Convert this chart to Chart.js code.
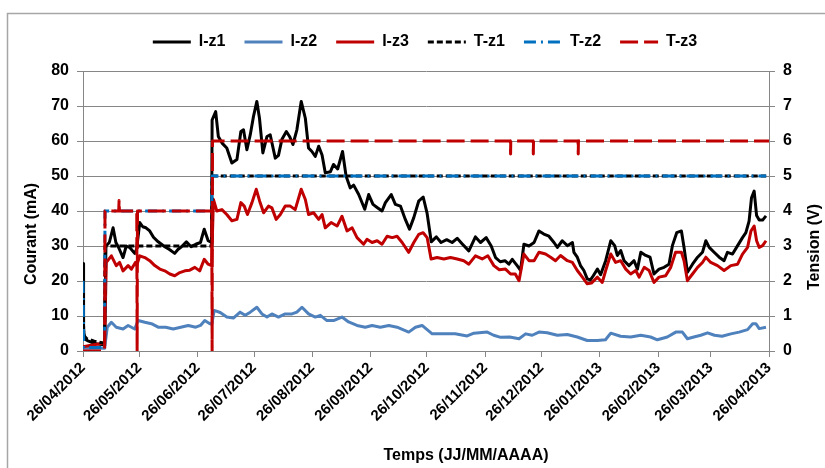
<!DOCTYPE html>
<html>
<head>
<meta charset="utf-8">
<script src="https://cdn.jsdelivr.net/npm/chart.js@4.4.1/dist/chart.umd.min.js"></script>
<style>
  html, body { margin: 0; padding: 0; background: #fff; }
  canvas { display: block; }
</style>
</head>
<body>
<canvas id="chart" width="825" height="468"></canvas>
<script>
// jours comptés depuis le 26/04/2012
const tickDays = [0, 30, 61, 91, 122, 153, 183, 214, 244, 275, 306, 334, 365];
const tickLabels = ['26/04/2012', '26/05/2012', '26/06/2012', '26/07/2012', '26/08/2012', '26/09/2012',
    '26/10/2012', '26/11/2012', '26/12/2012', '26/01/2013', '26/02/2013', '26/03/2013', '26/04/2013'];

// courant zone 1 (mA)
const iz1Days = [0, 0.3, 1, 3, 5, 7, 9, 11.5, 12.2, 14, 16, 17.5, 19, 21.3, 23, 25, 27.5, 28.5, 30.2, 31.8,
    33.5, 35.5, 37.5, 40, 43.5, 46, 48.8, 50.5, 52.4, 55, 57.5, 60, 62.5, 64.5, 66.6, 68.4, 68.7, 70.6, 72, 74,
    76.5, 79.2, 81.9, 84, 85.4, 87.2, 89, 90.7, 92.5, 93.9, 95.7, 97.9, 99.6, 102.3, 104, 105.8, 108.2, 109.9,
    111.7, 113.8, 116.1, 118.3, 120, 121.8, 123.6, 125.4, 127.2, 128.9, 131.6, 133.3, 135.5, 138.1, 140, 142.2,
    144, 146.7, 149.9, 152, 154.3, 156.5, 159.1, 160.9, 164, 166.2, 168.9, 171.5, 173.7, 176, 178.6, 181, 183.1,
    185.3, 188, 190.5, 193.5, 196.4, 199.1, 201.8, 205.3, 208.8, 211.5, 214.5, 217.2, 219.5, 222, 224.5, 226.6,
    228.4, 231.1, 232.8, 234.6, 237.3, 240, 242.6, 245.2, 247.9, 250.6, 252.4, 255, 257.7, 260.4, 261.2, 263,
    264.8, 266.5, 268.3, 270, 271.5, 273.7, 275.4, 278.1, 280.8, 282.9, 284.3, 286.1, 287.9, 290.5, 293.2, 295,
    296.8, 299.4, 301.7, 303.8, 306.5, 309.2, 311.8, 313.6, 315.9, 318.4, 319.8, 321.6, 324.3, 327, 329.6, 331.4,
    333.2, 335.8, 338.5, 341.1, 342.9, 345.6, 348.3, 350.9, 352.7, 354.4, 355.7, 357.1, 358.4, 359.8, 361.6, 363.4];
const iz1Vals = [25, 6, 3.4, 2.8, 2.4, 2.1, 1.9, 1.7, 30, 31, 35.2, 31, 29.5, 26.7, 30, 29.5, 27.9, 29, 36.7, 35.5,
    35.2, 34.3, 32.5, 31.2, 29.8, 29, 27.9, 29, 29.8, 31.2, 29.8, 30.5, 31, 34.8, 31.5, 31, 66, 68.4, 61.3, 59.4,
    58, 53.7, 54.7, 62.7, 63.2, 57.5, 61.8, 67, 71.3, 66.5, 56.6, 61.3, 61.8, 55.1, 55.9, 60.4, 62.7, 61.3,
    59, 63.2, 71.3, 66.5, 58, 57, 55.6, 58.5, 56, 50.9, 51.2, 53.3, 52, 57, 49.9, 46.6,
    47.4, 44.7, 40.5, 44.7, 41.9, 41, 40, 42.4, 44.7, 41.9, 41.4, 37.6, 34.8, 38.1, 42.8, 44, 39.3,
    31.2, 32.6, 31, 31.8, 31, 32.2, 30.6, 28.6, 32.6, 31, 32.4, 30, 26.7, 25.5, 25.8, 24.8,
    26.2, 24.3, 23, 30.5, 30, 31, 34.3, 33.4, 32.8, 31, 29.6, 31.5, 30.1, 31, 28.2, 26.8,
    24.3, 23, 20.6, 20.3, 21.5, 23.4, 21.8, 25.8, 31.5, 30.1, 27.3, 28.7, 25.8, 24.4, 25.8, 23.4,
    28.2, 27.3, 26.8, 22, 23.4, 23.9, 24.8, 30.1, 33.8, 34.3, 29.6, 22.5, 24.8, 26.8, 28.2, 31.5,
    29.6, 28.2, 26.8, 25.8, 28.2, 27.7, 30.1, 32.4, 33.8, 37.1, 43.8, 45.7, 38.7, 37.4, 37.4, 38.6];

// courant zone 2 (mA)
const iz2Days = [0, 11.5, 12.9, 15.1, 17.7, 21.3, 24, 27.5, 29.3, 32.9, 36.4, 40, 44, 48, 52, 56, 60, 62.5, 64.8,
    67.5, 68.5, 69.8, 73, 76.5, 80, 83.6, 86.3, 89, 92.5, 95.2, 97.9, 100.5, 104, 107.6, 111.2, 113.8, 116.5, 120,
    123.6, 126.3, 129.8, 133.3, 137.8, 141.3, 145.8, 150.2, 153.8, 158.2, 162.7, 167.1, 173.3, 176.9, 180.4,
    185.8, 192, 198, 204.4, 208, 215.1, 218.5, 222.2, 227, 232, 235.5, 239, 242.6, 247, 252.4, 257.7, 263, 268.3,
    273.7, 278, 280.8, 286, 291.4, 296.8, 302, 305.6, 310.9, 315.4, 318.9, 321.6, 325, 328.7, 332.3, 336, 340,
    344.7, 349.1, 353.6, 356.3, 358, 359.8, 363.4];
const iz2Vals = [0.8, 0.8, 6.8, 8.2, 6.8, 6.3, 7.3, 6.3, 8.7, 8.2, 7.8, 6.8, 6.8, 6.3, 6.8, 7.3, 6.8, 7.3, 8.7,
    7.8, 7.6, 11.6, 11, 9.7, 9.4, 11.1, 10.2, 11.1, 12.5, 10.6, 9.7, 10.6, 9.7, 10.6, 10.6, 11.1, 12.5, 10.6,
    9.7, 10.2, 8.7, 8.7, 9.7, 8.3, 7.3, 6.8, 7.3, 6.8, 7.3, 6.8, 5.4, 6.8, 7.3,
    4.9, 4.9, 4.9, 4.3, 5.1, 5.4, 4.5, 3.9, 4.0, 3.5, 4.9, 4.5, 5.4, 5.2, 4.5, 4.7, 4.0, 3.0,
    3.0, 3.2, 5.1, 4.2, 4.0, 4.5, 4.0, 3.2, 4.0, 5.4, 5.4, 3.5, 4.0, 4.5, 5.2, 4.5, 4.2,
    4.9, 5.4, 6.1, 7.8, 7.8, 6.4, 6.8];

// courant zone 3 (mA)
const iz3Days = [0, 5, 11.5, 12.4, 15.1, 17.7, 19.5, 21.3, 24, 25.8, 27.9, 28.6, 30.2, 32.9, 35.5, 38.2, 40.9, 43.5,
    46.2, 48.8, 51.5, 54.2, 56.8, 59.5, 62.1, 64.5, 66.6, 68.4, 69.4, 71.2, 73.9, 76.5, 79.2, 81.9, 84, 85.8, 87.5,
    89.9, 92.2, 94, 96.1, 98.7, 100.5, 102.8, 105, 107.6, 110.3, 112.9, 116.1, 118.3, 120, 122.7, 125.4, 127.2,
    128.9, 132, 135.2, 137.8, 140.5, 143.2, 145.8, 149.3, 151.1, 153.8, 156.5, 159.1, 161.8, 164.5, 167.1, 169.8,
    173.3, 176, 178.6, 181, 183.1, 185.2, 188.4, 192, 195.5, 199.1, 202.6, 205.3, 208.8, 212.4, 215.4, 218.6,
    221.5, 224.8, 227.5, 230, 232, 234.6, 237.3, 240, 242.6, 246.1, 248.8, 251.4, 254.1, 257.7, 260.4, 263,
    265.7, 268.3, 270.5, 273.7, 276.3, 278.1, 280.8, 283.4, 286.1, 288.8, 291.4, 294.1, 295.9, 298.6, 301.2,
    303.8, 306.5, 310, 312.7, 315.3, 318.4, 319.8, 321.6, 324.3, 327, 329.6, 331.4, 334, 337.6, 341.1, 344.7,
    348.3, 350.9, 353.6, 355.4, 357.1, 358.4, 359.8, 361.6, 363.4];
const iz3Vals = [1.2, 1.7, 2.3, 25.3, 27.2, 24.4, 25.3, 22.9, 24.4, 23.4, 25.3, 24.5, 27.2, 26.7, 25.8, 24.4, 23.4, 22.9,
    22, 21.5, 22.4, 22.9, 23.1, 23.9, 22.9, 26.2, 24.8, 24.4, 43.3, 40, 40.4, 39, 37.2, 37.6, 42.4, 41.4, 39,
    42.4, 46.2, 42.8, 39.5, 41.4, 40.9, 37.6, 39, 41.4, 41.4, 40.4, 46.2, 43.3, 39, 39.5, 37.6, 39,
    35.2, 36.7, 35.7, 38.5, 34.3, 35.2, 32.4, 30.5, 31.9, 31, 31.5, 30.5, 32.8, 32.4, 32.8, 31,
    28.2, 31, 33.3, 33.8, 32.4, 26.3, 26.7, 26.3, 26.7, 26.3, 25.8, 24.8, 27.2, 26.3, 27.2, 24.4,
    23.2, 23.4, 22, 22, 20.1, 27.7, 25.8, 25.8, 28.2, 27.7, 26.8, 25.8, 27.3, 25.8, 25.3, 23,
    21.1, 19.2, 19.4, 21.1, 19.6, 23, 27.7, 25.3, 25.8, 23.4, 22, 23, 21.1, 23.9, 23,
    19.6, 21.1, 21.5, 23.9, 28.2, 28.2, 25.8, 20.1, 22, 23.9, 25.3, 26.8, 25.3, 24.4, 23, 24.4,
    24.8, 27.7, 29.6, 34.3, 35.7, 31.5, 29.6, 30.1, 31.5];

// tensions appliquées (V)
const tz1Days = [0, 0.4, 2, 6, 11.5, 11.7, 68.5, 68.7, 363.5];
const tz1Vals = [2.0, 0.45, 0.35, 0.28, 0.22, 3, 3, 5, 5];
const tz2Days = [0, 0.4, 11.5, 11.7, 68.5, 68.7, 363.5];
const tz2Vals = [2.0, 0.1, 0.1, 4, 4, 5, 5];
const tz3Days = [0, 11.5, 11.7, 19.0, 19.2, 19.4, 28.6, 28.8, 29.0, 68.5, 68.7, 68.9,
    227.4, 227.5, 227.6, 239.5, 239.6, 239.7, 263.4, 263.5, 263.6, 365];
const tz3Vals = [0, 0, 4, 4, 4.3, 4, 4, 0, 4, 4, 0, 6, 6, 5.63, 6, 6, 5.63, 6, 6, 5.63, 6, 6];

const toPoints = (days, vals) => days.map((d, i) => ({ x: d, y: vals[i] }));

const FONT = '"Liberation Sans", Arial, sans-serif';
const GRID = '#868686';

const serie = (label, days, vals, color, axis, dash, order) => ({
    label: label,
    data: toPoints(days, vals),
    borderColor: color,
    backgroundColor: color,
    borderWidth: 3,
    borderDash: dash,
    borderJoinStyle: 'round',
    pointRadius: 0,
    pointHoverRadius: 0,
    tension: 0,
    fill: false,
    yAxisID: axis,
    order: order
});

// fond blanc + cadre gris
const frame = {
    id: 'frame',
    beforeDraw(chart) {
        const ctx = chart.ctx;
        ctx.save();
        ctx.fillStyle = '#fff';
        ctx.fillRect(0, 0, chart.width, chart.height);
        ctx.strokeStyle = '#a6a6a6';
        ctx.lineWidth = 1.5;
        ctx.beginPath();
        ctx.moveTo(7.5, chart.height + 5);
        ctx.lineTo(7.5, 13.5);
        ctx.lineTo(chart.width + 5, 13.5);
        ctx.stroke();
        ctx.restore();
    }
};

// espace supplémentaire sous la légende
const legendGap = {
    id: 'legendGap',
    beforeLayout(chart) {
        const legend = chart.legend;
        if (legend && !legend._gapAdded) {
            const fit = legend.fit;
            legend.fit = function () {
                fit.call(this);
                this.height += 11;
            };
            legend._gapAdded = true;
        }
    }
};

// titres des axes
const axisTitles = {
    id: 'axisTitles',
    afterDraw(chart) {
        const ctx = chart.ctx;
        ctx.save();
        ctx.fillStyle = '#000';
        ctx.font = 'bold 16px ' + FONT;
        ctx.textAlign = 'center';
        ctx.textBaseline = 'middle';
        ctx.fillText('Temps (JJ/MM/AAAA)', 466, 456);
        ctx.translate(32, 234);
        ctx.rotate(-Math.PI / 2);
        ctx.fillText('Courant (mA)', 0, 0);
        ctx.restore();
        ctx.save();
        ctx.fillStyle = '#000';
        ctx.font = 'bold 16px ' + FONT;
        ctx.textAlign = 'center';
        ctx.textBaseline = 'middle';
        ctx.translate(815, 247);
        ctx.rotate(-Math.PI / 2);
        ctx.fillText('Tension (V)', 0, 0);
        ctx.restore();
    }
};

new Chart(document.getElementById('chart'), {
    type: 'line',
    data: {
        datasets: [
            serie('I-z1', iz1Days, iz1Vals, '#000000', 'y', [], 6),
            serie('I-z2', iz2Days, iz2Vals, '#4F81BD', 'y', [], 5),
            serie('I-z3', iz3Days, iz3Vals, '#C00000', 'y', [], 4),
            serie('T-z1', tz1Days, tz1Vals, '#000000', 'y2', [6, 3], 3),
            serie('T-z2', tz2Days, tz2Vals, '#0070C0', 'y2', [12, 5, 2, 5], 2),
            serie('T-z3', tz3Days, tz3Vals, '#C00000', 'y2', [18, 6], 1)
        ]
    },
    options: {
        responsive: false,
        devicePixelRatio: 1,
        animation: false,
        layout: { padding: { left: 25, top: 15, right: 0, bottom: 0 } },
        plugins: {
            legend: {
                position: 'top',
                labels: {
                    usePointStyle: true,
                    pointStyle: 'line',
                    pointStyleWidth: 38,
                    padding: 19,
                    color: '#000',
                    font: { family: FONT, size: 16, weight: 'bold' },
                    generateLabels: (chart) => chart.data.datasets.map((ds, i) => ({
                        text: ds.label,
                        datasetIndex: i,
                        hidden: false,
                        fillStyle: ds.borderColor,
                        strokeStyle: ds.borderColor,
                        lineWidth: 3,
                        lineDash: ds.borderDash,
                        lineCap: 'butt',
                        pointStyle: 'line',
                        fontColor: '#000'
                    }))
                }
            },
            tooltip: { enabled: false }
        },
        scales: {
            x: {
                type: 'linear',
                min: 0,
                max: 365,
                afterBuildTicks: (scale) => { scale.ticks = tickDays.map(v => ({ value: v })); },
                afterFit: (scale) => { scale.height = 117; },
                ticks: {
                    autoSkip: false,
                    maxRotation: 45,
                    minRotation: 45,
                    padding: 2,
                    color: '#000',
                    font: { family: FONT, size: 15, weight: 'bold' },
                    callback: (value) => tickLabels[tickDays.indexOf(value)]
                },
                grid: { drawOnChartArea: false, drawTicks: true, tickLength: 6, color: GRID },
                border: { color: GRID }
            },
            y: {
                position: 'left',
                min: 0,
                max: 80,
                afterFit: (scale) => { scale.width = 58; },
                ticks: { stepSize: 10, padding: 8, color: '#000', font: { family: FONT, size: 16, weight: 'bold' } },
                grid: { color: GRID, tickLength: 6 },
                border: { color: GRID }
            },
            y2: {
                position: 'right',
                min: 0,
                max: 8,
                afterFit: (scale) => { scale.width = 56; },
                ticks: { stepSize: 1, padding: 8, color: '#000', font: { family: FONT, size: 16, weight: 'bold' } },
                grid: { drawOnChartArea: false, tickLength: 6, color: GRID },
                border: { color: GRID }
            }
        }
    },
    plugins: [frame, legendGap, axisTitles]
});
</script>
</body>
</html>
